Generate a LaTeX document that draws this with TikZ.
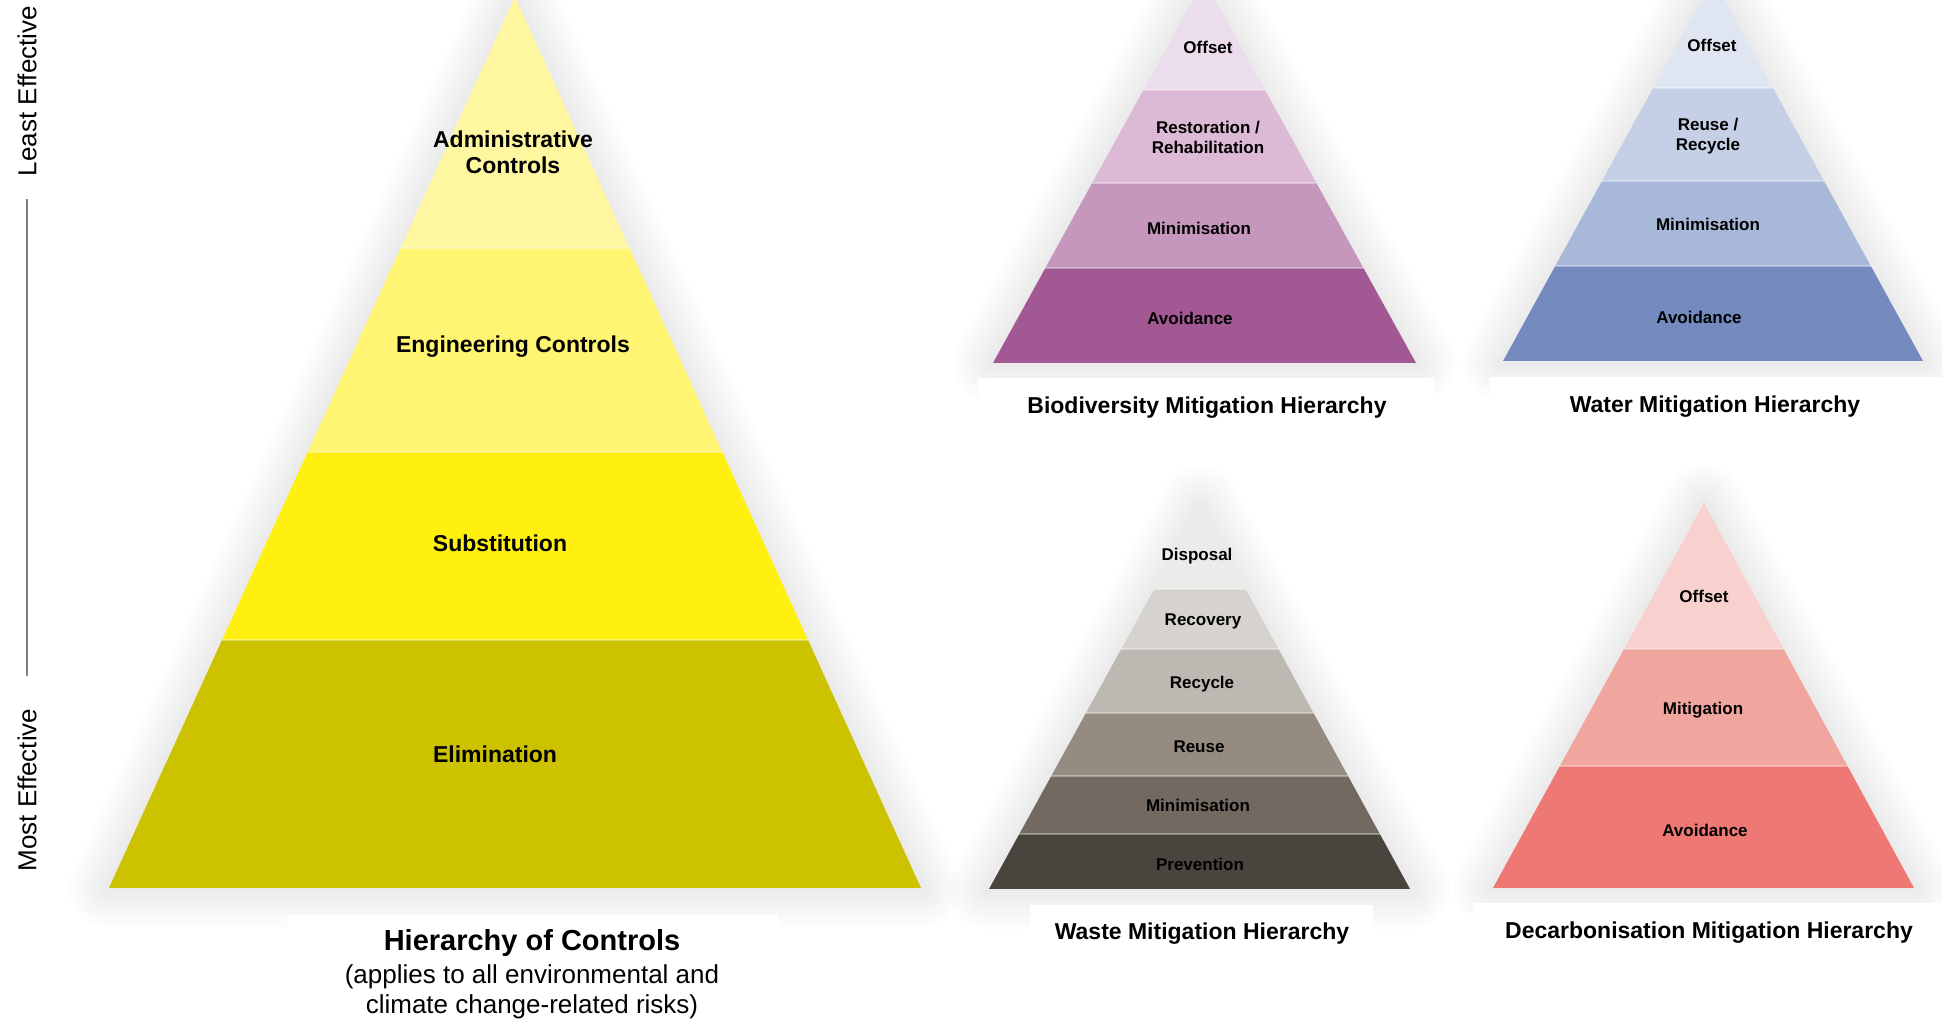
\documentclass[tikz,border=0pt]{standalone}
\usepackage{fontspec}
\setmainfont{Liberation Sans}
\usetikzlibrary{positioning}

% hierarchy of controls
\definecolor{hocA}{HTML}{FFF7A0}
\definecolor{hocB}{HTML}{FFF573}
\definecolor{hocC}{HTML}{FFF010}
\definecolor{hocD}{HTML}{CCC200}
% biodiversity
\definecolor{bioA}{HTML}{EBDDEB}
\definecolor{bioB}{HTML}{DCB9D4}
\definecolor{bioC}{HTML}{C597BD}
\definecolor{bioD}{HTML}{A15893}
% water
\definecolor{watA}{HTML}{DFE5F1}
\definecolor{watB}{HTML}{C5CFE5}
\definecolor{watC}{HTML}{A8B8D8}
\definecolor{watD}{HTML}{758BC0}
% waste
\definecolor{wasA}{HTML}{EBEBEA}
\definecolor{wasB}{HTML}{D6D3CE}
\definecolor{wasC}{HTML}{BDB8B1}
\definecolor{wasD}{HTML}{958B80}
\definecolor{wasE}{HTML}{726960}
\definecolor{wasF}{HTML}{4A443E}
% decarbonisation
\definecolor{decA}{HTML}{F8D0CE}
\definecolor{decB}{HTML}{F0A59F}
\definecolor{decC}{HTML}{EE7873}

\begin{document}
\begin{tikzpicture}[x=0.5pt, y=-0.5pt,
  level/.style = {font=\bfseries\fontsize{11.5}{13}\selectfont, align=center},
  tier/.style = {font=\bfseries\fontsize{8.5}{10}\selectfont, align=center},
  caption/.style = {font=\bfseries\fontsize{11.5}{14}\selectfont, align=center},
  axis/.style = {rotate=90, font=\fontsize{13}{15}\selectfont},
  glow/.style = {draw=black, line join=round, opacity=0.009},
  band/.style = {draw=white, opacity=0.35, line width=0.6pt}]

  \useasboundingbox (0,0) rectangle (1942,1021);
  \clip (0,0) rectangle (1942,1021);
  \fill[white] (0,0) rectangle (1942,1021);

  % corners of the pyramids
  \coordinate (hoc-top) at (515,-3);
  \coordinate (hoc-l) at (109,888);
  \coordinate (hoc-r) at (921,888);
  \coordinate (bio-top) at (1204,-20);
  \coordinate (bio-l) at (993,363);
  \coordinate (bio-r) at (1416,363);
  \coordinate (wat-top) at (1713,-21);
  \coordinate (wat-l) at (1503,361);
  \coordinate (wat-r) at (1923,361);
  \coordinate (was-top) at (1200,506);
  \coordinate (was-l) at (989,889);
  \coordinate (was-r) at (1410,889);
  \coordinate (dec-top) at (1704,503);
  \coordinate (dec-l) at (1493,888);
  \coordinate (dec-r) at (1914,888);

  % soft shadows
  \foreach \p in {hoc, bio, wat, was, dec}
    \foreach \g in {1,...,10}
      \draw[glow, line width=\g*4pt] (\p-top) -- (\p-r) -- (\p-l) -- cycle;

  % white boxes under the captions
  \fill[white] (287,915) rectangle (778,1021);
  \fill[white] (978,378) rectangle (1434,440);
  \fill[white] (1490,377) rectangle (1942,440);
  \fill[white] (1030,905) rectangle (1373,1021);
  \fill[white] (1473,903) rectangle (1942,1021);

  % hierarchy of controls
  \begin{scope}
    \clip (hoc-top) -- (hoc-r) -- (hoc-l) -- cycle;
    \foreach \t/\b/\c in {-10/248/hocA, 248/452/hocB, 452/640/hocC, 640/888/hocD}
      \fill[\c] (100,\t) rectangle (930,\b);
    \foreach \y in {248, 452, 640}
      \draw[band] (100,\y) -- (930,\y);
  \end{scope}

  % biodiversity
  \begin{scope}
    \clip (bio-top) -- (bio-r) -- (bio-l) -- cycle;
    \foreach \t/\b/\c in {-30/90/bioA, 90/183/bioB, 183/268/bioC, 268/363/bioD}
      \fill[\c] (980,\t) rectangle (1430,\b);
    \foreach \y in {90, 183, 268}
      \draw[band] (980,\y) -- (1430,\y);
  \end{scope}

  % water
  \begin{scope}
    \clip (wat-top) -- (wat-r) -- (wat-l) -- cycle;
    \foreach \t/\b/\c in {-30/88/watA, 88/181/watB, 181/266/watC, 266/361/watD}
      \fill[\c] (1490,\t) rectangle (1935,\b);
    \foreach \y in {88, 181, 266}
      \draw[band] (1490,\y) -- (1935,\y);
  \end{scope}

  % waste
  \begin{scope}
    \clip (was-top) -- (was-r) -- (was-l) -- cycle;
    \foreach \t/\b/\c in {500/589/wasA, 589/649/wasB, 649/713/wasC,
                          713/776/wasD, 776/834/wasE, 834/889/wasF}
      \fill[\c] (980,\t) rectangle (1420,\b);
    \foreach \y in {589, 649, 713, 776, 834}
      \draw[band] (980,\y) -- (1420,\y);
  \end{scope}

  % decarbonisation
  \begin{scope}
    \clip (dec-top) -- (dec-r) -- (dec-l) -- cycle;
    \foreach \t/\b/\c in {495/649/decA, 649/766/decB, 766/888/decC}
      \fill[\c] (1485,\t) rectangle (1925,\b);
    \foreach \y in {649, 766}
      \draw[band] (1485,\y) -- (1925,\y);
  \end{scope}

  % levels
  \node[level] (admin) at (513,152) {Administrative\\Controls};
  \node[level] (eng) at (513,347) {Engineering Controls};
  \node[level] (subst) at (500,543) {Substitution};
  \node[level] (elim) at (495,754) {Elimination};

  \node[tier] (bio-offset) at (1208,47) {Offset};
  \node[tier] (bio-resto) at (1208,137) {Restoration /\\Rehabilitation};
  \node[tier] (bio-min) at (1199,228) {Minimisation};
  \node[tier] (bio-avoid) at (1190,318) {Avoidance};

  \node[tier] (wat-offset) at (1712,45) {Offset};
  \node[tier] (wat-reuse) at (1708,136) {Reuse /\\Recycle};
  \node[tier] (wat-min) at (1708,224) {Minimisation};
  \node[tier] (wat-avoid) at (1699,317) {Avoidance};

  \node[tier] (was-disp) at (1197,556) {Disposal};
  \node[tier] (was-recov) at (1203,621) {Recovery};
  \node[tier] (was-recyc) at (1202,684) {Recycle};
  \node[tier] (was-reuse) at (1199,747) {Reuse};
  \node[tier] (was-min) at (1198,805) {Minimisation};
  \node[tier] (was-prev) at (1200,864) {Prevention};

  \node[tier] (dec-offset) at (1704,596) {Offset};
  \node[tier] (dec-mitig) at (1703,710) {Mitigation};
  \node[tier] (dec-avoid) at (1705,830) {Avoidance};

  % captions
  \node[font=\bfseries\fontsize{14.5}{17}\selectfont] (hoc-cap) at (532,943) {Hierarchy of Controls};
  \node[align=center, font=\fontsize{13}{15}\selectfont] (hoc-sub) at (532,992)
    {(applies to all environmental and\\climate change-related risks)};
  \node[caption] (bio-cap) at (1207,408) {Biodiversity Mitigation Hierarchy};
  \node[caption] (wat-cap) at (1715,407) {Water Mitigation Hierarchy};
  \node[caption] (was-cap) at (1202,934) {Waste Mitigation Hierarchy};
  \node[caption] (dec-cap) at (1709,933) {Decarbonisation Mitigation Hierarchy};

  % effectiveness axis
  \node[axis] (least) at (27,91) {Least Effective};
  \node[axis] (most) at (27,790) {Most Effective};
  \draw[gray, line width=1pt, shorten <=8pt, shorten >=13pt] (least.west) -- (most.east);
\end{tikzpicture}
\end{document}
